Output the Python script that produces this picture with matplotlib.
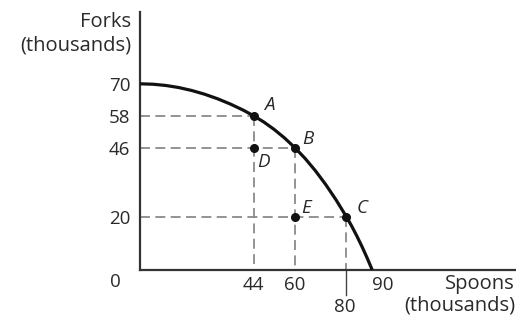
import matplotlib
matplotlib.use("Agg")
import matplotlib.pyplot as plt

# Data
curve_x = [0, 5, 10, 15, 20, 25, 30, 35, 40, 44, 48, 52, 56, 60, 64, 68, 72, 76, 80, 82, 84, 86, 88, 90]
curve_y = [70, 69.85, 69.38, 68.6, 67.5, 66.1, 64.4, 62.4, 60.1, 58, 55.62, 52.83, 49.64, 46,
           41.92, 37.28, 32.08, 26.32, 20, 16.56, 12.84, 8.84, 4.56, 0]
point_names = ["A", "B", "C", "D", "E"]
point_x = [44, 60, 80, 44, 60]
point_y = [58, 46, 20, 46, 20]
ytick_vals = [20, 46, 58, 70]
xtick_vals = [44, 60, 90]
x_low_tick = 80

plt.rcParams['font.family'] = ['Open Sans', 'DejaVu Sans']
FS = 13.5
FL = 14.5
TC = '#2a2a2a'

fig = plt.figure(figsize=(5.16, 3.23), dpi=100)
ax = fig.add_axes([140/516, 53/323, 376/516, 258/323])
ax.set_xlim(0, 145.7)
ax.set_ylim(0, 97)

for s in ['top', 'right']:
    ax.spines[s].set_visible(False)
for s in ['left', 'bottom']:
    ax.spines[s].set_linewidth(1.6)
    ax.spines[s].set_color('#333333')

dash = dict(color='#8a8a8a', lw=1.3, ls=(0, (5.5, 3)))
ax.plot([0, 44], [58, 58], **dash)
ax.plot([44, 44], [58, 0], **dash)
ax.plot([0, 60], [46, 46], **dash)
ax.plot([60, 60], [46, 0], **dash)
ax.plot([0, 80], [20, 20], **dash)
ax.plot([80, 80], [20, 0], **dash)

ax.plot(curve_x, curve_y, color='#111111', lw=2.3, solid_capstyle='butt',
        solid_joinstyle='round', zorder=3)
ax.plot(point_x, point_y, 'o', color='#111111', ms=5.5, zorder=4)

offsets = {"A": (11.5, 8), "B": (9.5, 6.5), "C": (11, 6), "D": (7, -10), "E": (8, 6)}
for n, x, y in zip(point_names, point_x, point_y):
    ax.annotate(n, (x, y), xytext=offsets[n], textcoords='offset points',
                fontsize=FS, style='italic', color=TC, ha='center', va='center')

ax.set_yticks(ytick_vals)
ax.set_yticklabels([str(v) for v in ytick_vals])
ax.set_xticks(xtick_vals)
ax.set_xticklabels([str(v) for v in xtick_vals])
ax.tick_params(axis='both', length=0, labelsize=FS, labelcolor=TC)
ax.tick_params(axis='y', pad=7)
ax.tick_params(axis='x', pad=4)
for lbl in ax.get_xticklabels():
    if lbl.get_text() == "90":
        lbl.set_horizontalalignment('left')
        lbl.set_x(88.8)

ax.text(-7.5, -4.5, "0", fontsize=FS, color=TC, ha='right', va='center')
ax.plot([x_low_tick, x_low_tick], [0, -9.5], color='#444444', lw=1, clip_on=False)
ax.text(x_low_tick - 0.5, -14, str(x_low_tick), fontsize=FS, color=TC,
        ha='center', va='center', clip_on=False)

fig.text(131/516, 1 - 22/323, "Forks", fontsize=FL, ha='right', va='center', color=TC)
fig.text(131/516, 1 - 45/323, "(thousands)", fontsize=FL, ha='right', va='center', color=TC)
fig.text(515/516, 1 - 284/323, "Spoons", fontsize=FL, ha='right', va='center', color=TC)
fig.text(515/516, 1 - 305/323, "(thousands)", fontsize=FL, ha='right', va='center', color=TC)

fig.savefig("out.png", dpi=100)
